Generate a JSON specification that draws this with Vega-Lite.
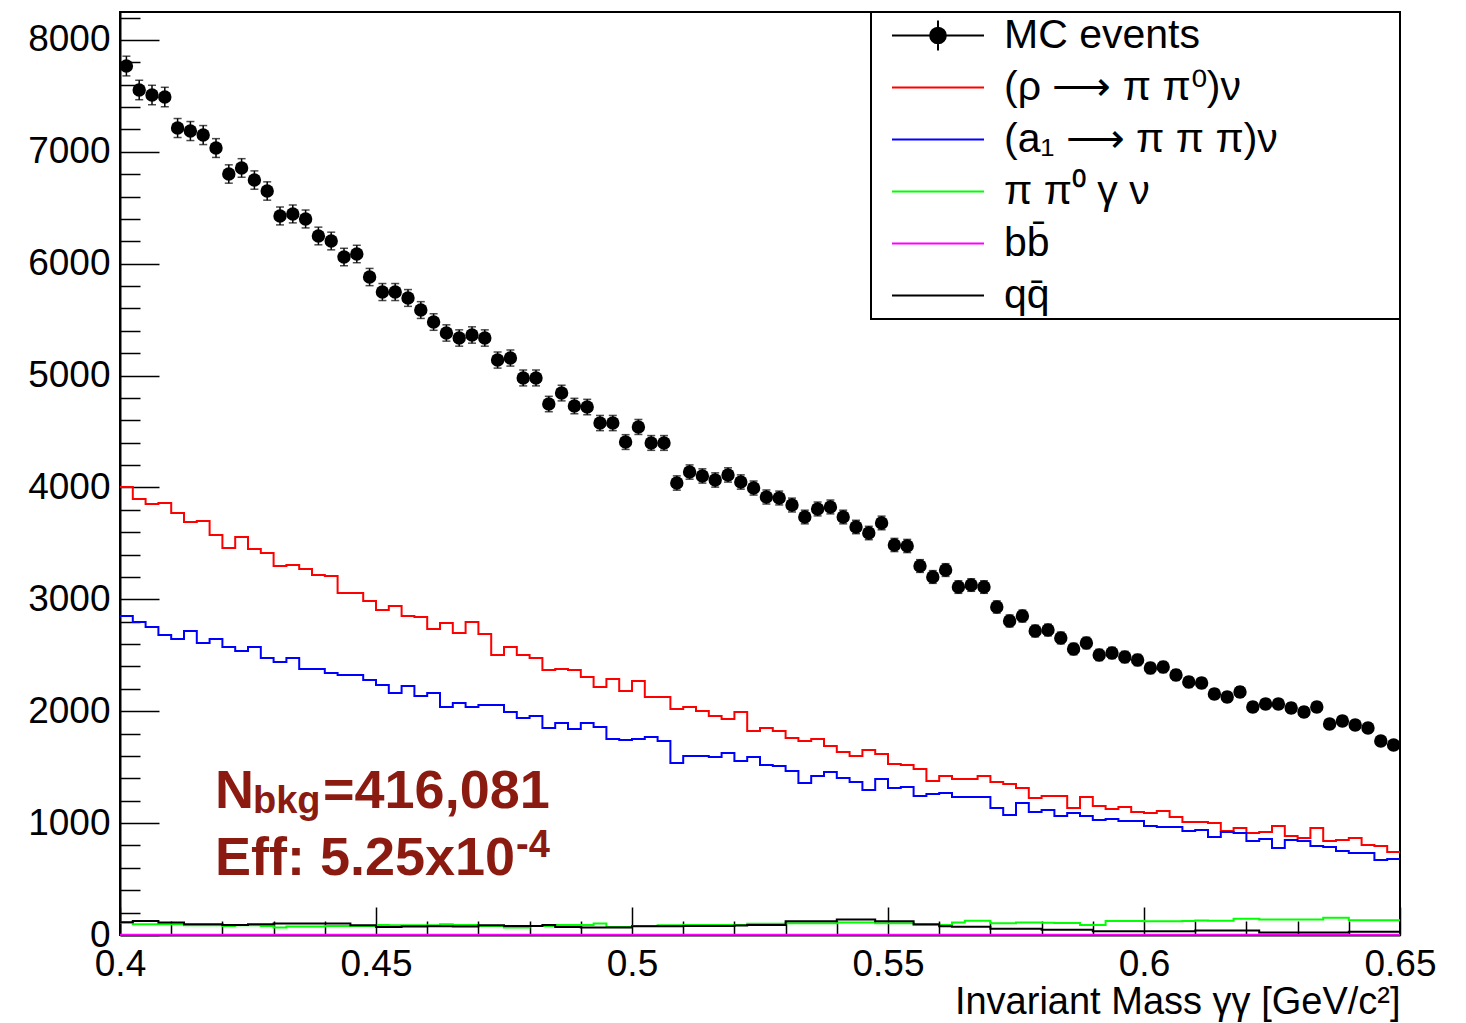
{
"$schema": "https://vega.github.io/schema/vega-lite/v6.json",
"width": 1280, "height": 923, "autosize": "none",
"padding": {"left": 120, "top": 12, "right": 66, "bottom": 88},
"background": "white",
"config": {"view": {"stroke": "black", "strokeWidth": 2}, "font": "Liberation Sans"},
"datasets": {"bins": [
{"x":0.4,"rho":4004,"a1":2851,"pig":111,"bb":2,"qq":115},
{"x":0.40125,"mc":7767,"err":88,"rho":4004,"a1":2851,"pig":111,"bb":2,"qq":115},
{"x":0.40375,"mc":7553,"err":87,"rho":3897,"a1":2798,"pig":96,"bb":2,"qq":126},
{"x":0.40625,"mc":7508,"err":87,"rho":3852,"a1":2753,"pig":96,"bb":2,"qq":126},
{"x":0.40875,"mc":7490,"err":87,"rho":3861,"a1":2681,"pig":96,"bb":2,"qq":111},
{"x":0.41125,"mc":7213,"err":85,"rho":3772,"a1":2646,"pig":96,"bb":2,"qq":111},
{"x":0.41375,"mc":7186,"err":85,"rho":3691,"a1":2717,"pig":87,"bb":2,"qq":96},
{"x":0.41625,"mc":7150,"err":85,"rho":3700,"a1":2610,"pig":87,"bb":2,"qq":96},
{"x":0.41875,"mc":7034,"err":84,"rho":3575,"a1":2646,"pig":87,"bb":2,"qq":96},
{"x":0.42125,"mc":6802,"err":82,"rho":3459,"a1":2574,"pig":81,"bb":2,"qq":90},
{"x":0.42375,"mc":6856,"err":83,"rho":3557,"a1":2538,"pig":87,"bb":2,"qq":90},
{"x":0.42625,"mc":6748,"err":82,"rho":3450,"a1":2574,"pig":87,"bb":2,"qq":96},
{"x":0.42875,"mc":6650,"err":82,"rho":3414,"a1":2476,"pig":81,"bb":2,"qq":96},
{"x":0.43125,"mc":6427,"err":80,"rho":3298,"a1":2440,"pig":66,"bb":2,"qq":102},
{"x":0.43375,"mc":6445,"err":80,"rho":3307,"a1":2476,"pig":75,"bb":2,"qq":102},
{"x":0.43625,"mc":6400,"err":80,"rho":3271,"a1":2378,"pig":75,"bb":2,"qq":102},
{"x":0.43875,"mc":6248,"err":79,"rho":3218,"a1":2378,"pig":75,"bb":2,"qq":102},
{"x":0.44125,"mc":6203,"err":79,"rho":3209,"a1":2342,"pig":81,"bb":2,"qq":102},
{"x":0.44375,"mc":6060,"err":78,"rho":3057,"a1":2324,"pig":81,"bb":2,"qq":102},
{"x":0.44625,"mc":6087,"err":78,"rho":3057,"a1":2324,"pig":81,"bb":2,"qq":87},
{"x":0.44875,"mc":5881,"err":77,"rho":2985,"a1":2279,"pig":81,"bb":2,"qq":87},
{"x":0.45125,"mc":5747,"err":76,"rho":2905,"a1":2235,"pig":90,"bb":2,"qq":72},
{"x":0.45375,"mc":5747,"err":76,"rho":2941,"a1":2163,"pig":87,"bb":2,"qq":72},
{"x":0.45625,"mc":5694,"err":75,"rho":2851,"a1":2226,"pig":87,"bb":2,"qq":75},
{"x":0.45875,"mc":5586,"err":75,"rho":2842,"a1":2136,"pig":87,"bb":2,"qq":75},
{"x":0.46125,"mc":5479,"err":74,"rho":2735,"a1":2163,"pig":87,"bb":2,"qq":78},
{"x":0.46375,"mc":5381,"err":73,"rho":2789,"a1":2038,"pig":96,"bb":2,"qq":78},
{"x":0.46625,"mc":5336,"err":73,"rho":2699,"a1":2074,"pig":90,"bb":2,"qq":75},
{"x":0.46875,"mc":5363,"err":73,"rho":2798,"a1":2038,"pig":90,"bb":2,"qq":75},
{"x":0.47125,"mc":5336,"err":73,"rho":2690,"a1":2056,"pig":81,"bb":2,"qq":87},
{"x":0.47375,"mc":5139,"err":72,"rho":2503,"a1":2056,"pig":81,"bb":2,"qq":87},
{"x":0.47625,"mc":5157,"err":72,"rho":2574,"a1":1993,"pig":66,"bb":2,"qq":81},
{"x":0.47875,"mc":4979,"err":71,"rho":2503,"a1":1940,"pig":66,"bb":2,"qq":81},
{"x":0.48125,"mc":4979,"err":71,"rho":2476,"a1":1957,"pig":81,"bb":2,"qq":81},
{"x":0.48375,"mc":4746,"err":69,"rho":2369,"a1":1850,"pig":81,"bb":2,"qq":90},
{"x":0.48625,"mc":4844,"err":70,"rho":2378,"a1":1895,"pig":90,"bb":2,"qq":72},
{"x":0.48875,"mc":4728,"err":69,"rho":2369,"a1":1841,"pig":90,"bb":2,"qq":72},
{"x":0.49125,"mc":4719,"err":69,"rho":2306,"a1":1895,"pig":90,"bb":2,"qq":66},
{"x":0.49375,"mc":4576,"err":68,"rho":2217,"a1":1859,"pig":102,"bb":2,"qq":66},
{"x":0.49625,"mc":4576,"err":68,"rho":2288,"a1":1752,"pig":72,"bb":2,"qq":66},
{"x":0.49875,"mc":4406,"err":66,"rho":2181,"a1":1743,"pig":72,"bb":2,"qq":66},
{"x":0.50125,"mc":4541,"err":67,"rho":2270,"a1":1752,"pig":81,"bb":2,"qq":78},
{"x":0.50375,"mc":4398,"err":66,"rho":2127,"a1":1770,"pig":81,"bb":2,"qq":78},
{"x":0.50625,"mc":4398,"err":66,"rho":2127,"a1":1734,"pig":87,"bb":2,"qq":78},
{"x":0.50875,"mc":4040,"err":64,"rho":2020,"a1":1537,"pig":87,"bb":2,"qq":78},
{"x":0.51125,"mc":4138,"err":64,"rho":2038,"a1":1600,"pig":90,"bb":2,"qq":81},
{"x":0.51375,"mc":4103,"err":64,"rho":2002,"a1":1600,"pig":90,"bb":2,"qq":81},
{"x":0.51625,"mc":4067,"err":64,"rho":1957,"a1":1591,"pig":90,"bb":2,"qq":81},
{"x":0.51875,"mc":4112,"err":64,"rho":1931,"a1":1627,"pig":90,"bb":2,"qq":81},
{"x":0.52125,"mc":4049,"err":64,"rho":1993,"a1":1555,"pig":90,"bb":2,"qq":85},
{"x":0.52375,"mc":3995,"err":63,"rho":1823,"a1":1591,"pig":100,"bb":2,"qq":90},
{"x":0.52625,"mc":3915,"err":63,"rho":1850,"a1":1519,"pig":100,"bb":2,"qq":90},
{"x":0.52875,"mc":3906,"err":62,"rho":1823,"a1":1511,"pig":100,"bb":2,"qq":90},
{"x":0.53125,"mc":3843,"err":62,"rho":1761,"a1":1466,"pig":105,"bb":2,"qq":122},
{"x":0.53375,"mc":3736,"err":61,"rho":1734,"a1":1359,"pig":105,"bb":2,"qq":122},
{"x":0.53625,"mc":3808,"err":62,"rho":1752,"a1":1421,"pig":105,"bb":2,"qq":122},
{"x":0.53875,"mc":3826,"err":62,"rho":1689,"a1":1457,"pig":105,"bb":2,"qq":122},
{"x":0.54125,"mc":3736,"err":61,"rho":1636,"a1":1403,"pig":112,"bb":2,"qq":139},
{"x":0.54375,"mc":3647,"err":60,"rho":1600,"a1":1368,"pig":112,"bb":2,"qq":139},
{"x":0.54625,"mc":3593,"err":60,"rho":1654,"a1":1296,"pig":112,"bb":2,"qq":139},
{"x":0.54875,"mc":3683,"err":61,"rho":1618,"a1":1394,"pig":105,"bb":2,"qq":122},
{"x":0.55125,"mc":3486,"err":59,"rho":1528,"a1":1314,"pig":105,"bb":2,"qq":122},
{"x":0.55375,"mc":3477,"err":59,"rho":1519,"a1":1323,"pig":105,"bb":2,"qq":122},
{"x":0.55625,"mc":3298,"err":57,"rho":1484,"a1":1242,"pig":90,"bb":2,"qq":96},
{"x":0.55875,"mc":3200,"err":57,"rho":1376,"a1":1260,"pig":90,"bb":2,"qq":96},
{"x":0.56125,"mc":3262,"err":57,"rho":1421,"a1":1269,"pig":90,"bb":2,"qq":79},
{"x":0.56375,"mc":3110,"err":56,"rho":1394,"a1":1233,"pig":112,"bb":2,"qq":73},
{"x":0.56625,"mc":3128,"err":56,"rho":1394,"a1":1233,"pig":128,"bb":2,"qq":73},
{"x":0.56875,"mc":3110,"err":56,"rho":1421,"a1":1233,"pig":128,"bb":2,"qq":73},
{"x":0.57125,"mc":2932,"err":54,"rho":1368,"a1":1135,"pig":105,"bb":2,"qq":56},
{"x":0.57375,"mc":2807,"err":53,"rho":1350,"a1":1073,"pig":105,"bb":2,"qq":56},
{"x":0.57625,"mc":2851,"err":53,"rho":1314,"a1":1180,"pig":112,"bb":2,"qq":56},
{"x":0.57875,"mc":2717,"err":52,"rho":1225,"a1":1099,"pig":112,"bb":2,"qq":56},
{"x":0.58125,"mc":2726,"err":52,"rho":1242,"a1":1117,"pig":110,"bb":2,"qq":46},
{"x":0.58375,"mc":2655,"err":52,"rho":1242,"a1":1064,"pig":108,"bb":2,"qq":46},
{"x":0.58625,"mc":2556,"err":51,"rho":1135,"a1":1090,"pig":108,"bb":2,"qq":46},
{"x":0.58875,"mc":2610,"err":51,"rho":1233,"a1":1064,"pig":90,"bb":2,"qq":46},
{"x":0.59125,"mc":2503,"err":50,"rho":1153,"a1":1028,"pig":90,"bb":2,"qq":33},
{"x":0.59375,"mc":2521,"err":50,"rho":1126,"a1":1037,"pig":125,"bb":2,"qq":33},
{"x":0.59625,"mc":2485,"err":50,"rho":1144,"a1":1019,"pig":125,"bb":2,"qq":33},
{"x":0.59875,"mc":2458,"err":50,"rho":1099,"a1":1019,"pig":125,"bb":2,"qq":33},
{"x":0.60125,"mc":2386,"err":49,"rho":1090,"a1":974,"pig":122,"bb":2,"qq":33},
{"x":0.60375,"mc":2395,"err":49,"rho":1108,"a1":965,"pig":122,"bb":2,"qq":33},
{"x":0.60625,"mc":2324,"err":48,"rho":1055,"a1":965,"pig":122,"bb":2,"qq":33},
{"x":0.60875,"mc":2261,"err":48,"rho":1010,"a1":930,"pig":125,"bb":2,"qq":33},
{"x":0.61125,"mc":2252,"err":47,"rho":1010,"a1":939,"pig":130,"bb":2,"qq":40},
{"x":0.61375,"mc":2154,"err":46,"rho":1001,"a1":876,"pig":128,"bb":2,"qq":40},
{"x":0.61625,"mc":2127,"err":46,"rho":930,"a1":921,"pig":128,"bb":2,"qq":40},
{"x":0.61875,"mc":2172,"err":47,"rho":956,"a1":912,"pig":145,"bb":2,"qq":40},
{"x":0.62125,"mc":2038,"err":45,"rho":912,"a1":840,"pig":145,"bb":2,"qq":40},
{"x":0.62375,"mc":2065,"err":45,"rho":921,"a1":858,"pig":139,"bb":2,"qq":23},
{"x":0.62625,"mc":2065,"err":45,"rho":974,"a1":778,"pig":139,"bb":2,"qq":23},
{"x":0.62875,"mc":2029,"err":45,"rho":885,"a1":849,"pig":139,"bb":2,"qq":23},
{"x":0.63125,"mc":1993,"err":45,"rho":867,"a1":840,"pig":139,"bb":2,"qq":23},
{"x":0.63375,"mc":2038,"err":45,"rho":956,"a1":795,"pig":139,"bb":2,"qq":23},
{"x":0.63625,"mc":1886,"err":43,"rho":840,"a1":787,"pig":155,"bb":2,"qq":23},
{"x":0.63875,"mc":1913,"err":44,"rho":849,"a1":751,"pig":155,"bb":2,"qq":23},
{"x":0.64125,"mc":1877,"err":43,"rho":867,"a1":733,"pig":132,"bb":2,"qq":30},
{"x":0.64375,"mc":1850,"err":43,"rho":804,"a1":733,"pig":132,"bb":2,"qq":30},
{"x":0.64625,"mc":1734,"err":42,"rho":795,"a1":670,"pig":132,"bb":2,"qq":30},
{"x":0.64875,"mc":1698,"err":41,"rho":742,"a1":679,"pig":132,"bb":2,"qq":30},
{"x":0.65,"rho":742,"a1":679,"pig":132,"bb":2,"qq":30}
]},
"data": {"name": "bins"},
"resolve": {"axis": {"x": "independent", "y": "independent"}},
"layer": [
{
 "transform": [{"fold": ["rho","a1","pig","bb","qq"], "as": ["series","value"]}],
 "mark": {"type": "line", "interpolate": "step", "strokeWidth": 2},
 "encoding": {
  "x": {"field": "x", "type": "quantitative",
   "scale": {"domain": [0.4, 0.65], "nice": false, "zero": false},
   "axis": {"orient": "bottom", "values": [0.4,0.45,0.5,0.55,0.6,0.65],
    "tickSize": -28, "labelPadding": 39, "format": "~g",
    "labelFont": "Liberation Sans", "labelFontSize": 37, "labelColor": "black",
    "labelFlush": false, "labelOverlap": false, "labelBound": false,
    "title": "Invariant Mass γγ [GeV/c²]", "titleAnchor": "end", "titleFont": "Liberation Sans",
    "titleFontSize": 38, "titleFontWeight": "normal", "titleColor": "black", "titlePadding": 1,
    "grid": false, "domainColor": "black", "domainWidth": 2, "tickColor": "black", "tickWidth": 1.5}},
  "y": {"field": "value", "type": "quantitative",
   "scale": {"domain": [0, 8250], "nice": false, "zero": true},
   "axis": {"orient": "left", "values": [0,1000,2000,3000,4000,5000,6000,7000,8000],
    "tickSize": -39, "labelPadding": 49, "format": "d",
    "labelFont": "Liberation Sans", "labelFontSize": 37, "labelColor": "black",
    "labelOverlap": false, "labelBound": false, "labelFlush": false,
    "title": null, "grid": false, "domainColor": "black", "domainWidth": 2, "tickColor": "black", "tickWidth": 1.5}},
  "color": {"field": "series", "type": "nominal",
   "scale": {"domain": ["MC events","rho","a1","pig","bb","qq"], "range": ["#000000","#ff0000","#0000ff","#00ff00","#ff00ff","#000000"]},
   "legend": {"orient": "top-right", "offset": 0, "title": null,
    "symbolType": "stroke", "symbolSize": 1024, "symbolStrokeWidth": 2, "symbolOffset": 43.5,
    "labelFont": "Liberation Sans", "labelFontSize": 41, "labelColor": "black", "labelLimit": 1000,
    "labelOffset": 45.5, "padding": 3, "rowPadding": 10,
    "strokeColor": "black", "fillColor": "white",
    "labelExpr": "datum.value === 'rho' ? '(ρ ⟶ π π⁰)ν' : datum.value === 'a1' ? '(a₁ ⟶ π π π)ν' : datum.value === 'pig' ? 'π π⁰ γ ν' : datum.value === 'bb' ? 'bb̄' : datum.value === 'qq' ? 'qq̄' : datum.label",
    "encode": {
     "legend": {"update": {"strokeWidth": {"value": 2}}},
     "symbols": {"update": {
      "shape": {"signal": "datum.value === 'MC events' ? 'M-2.875,0H2.875M0,-0.94V0.94M0.49,0A0.49,0.49,0,1,1,-0.49,0A0.49,0.49,0,1,1,0.49,0ZM28.4,0' : 'M-2.875,0H2.875'"},
      "fill": {"signal": "datum.value === 'MC events' ? 'black' : 'transparent'"},
      "strokeWidth": {"value": 2}}}}}
  }
 }
},
{
 "transform": [{"filter": {"field": "mc", "valid": true}}],
 "mark": {"type": "errorbar", "ticks": {"size": 8, "thickness": 1.5, "color": "black"}, "rule": {"strokeWidth": 1.5, "color": "black"}},
 "encoding": {
  "x": {"field": "x", "type": "quantitative", "axis": null},
  "y": {"field": "mc", "type": "quantitative", "axis": null},
  "yError": {"field": "err"}
 }
},
{
 "transform": [{"filter": {"field": "mc", "valid": true}}],
 "mark": {"type": "circle", "size": 180, "color": "black", "opacity": 1},
 "encoding": {
  "x": {"field": "x", "type": "quantitative",
   "axis": {"orient": "bottom", "values": [0.41,0.42,0.43,0.44,0.46,0.47,0.48,0.49,0.51,0.52,0.53,0.54,0.56,0.57,0.58,0.59,0.61,0.62,0.63,0.64],
    "tickSize": -14, "labels": false, "domain": false, "title": null, "grid": false, "tickColor": "black", "tickWidth": 1.5}},
  "y": {"field": "mc", "type": "quantitative",
   "axis": {"orient": "left", "values": [200,400,600,800,1200,1400,1600,1800,2200,2400,2600,2800,3200,3400,3600,3800,4200,4400,4600,4800,5200,5400,5600,5800,6200,6400,6600,6800,7200,7400,7600,7800,8200],
    "tickSize": -20, "labels": false, "domain": false, "title": null, "grid": false, "tickColor": "black", "tickWidth": 1.5}}
 }
},
{
 "data": {"values": [{"label": "N"}]},
 "mark": {"type": "text", "align": "left", "baseline": "alphabetic", "font": "Liberation Sans", "fontWeight": "bold", "fontSize": 54, "color": "#8b1a10"},
 "encoding": {"x": {"datum": 0.41855, "type": "quantitative", "axis": null}, "y": {"datum": 1135, "type": "quantitative", "axis": null}, "text": {"field": "label"}}
},
{
 "data": {"values": [{"label": "bkg"}]},
 "mark": {"type": "text", "align": "left", "baseline": "alphabetic", "font": "Liberation Sans", "fontWeight": "bold", "fontSize": 38, "color": "#8b1a10"},
 "encoding": {"x": {"datum": 0.42598, "type": "quantitative", "axis": null}, "y": {"datum": 1090, "type": "quantitative", "axis": null}, "text": {"field": "label"}}
},
{
 "data": {"values": [{"label": "=416,081"}]},
 "mark": {"type": "text", "align": "left", "baseline": "alphabetic", "font": "Liberation Sans", "fontWeight": "bold", "fontSize": 54, "color": "#8b1a10"},
 "encoding": {"x": {"datum": 0.43965, "type": "quantitative", "axis": null}, "y": {"datum": 1135, "type": "quantitative", "axis": null}, "text": {"field": "label"}}
},
{
 "data": {"values": [{"label": "Eff: 5.25x10"}]},
 "mark": {"type": "text", "align": "left", "baseline": "alphabetic", "font": "Liberation Sans", "fontWeight": "bold", "fontSize": 54, "color": "#8b1a10"},
 "encoding": {"x": {"datum": 0.41855, "type": "quantitative", "axis": null}, "y": {"datum": 536, "type": "quantitative", "axis": null}, "text": {"field": "label"}}
},
{
 "data": {"values": [{"label": "-4"}]},
 "mark": {"type": "text", "align": "left", "baseline": "alphabetic", "font": "Liberation Sans", "fontWeight": "bold", "fontSize": 38, "color": "#8b1a10"},
 "encoding": {"x": {"datum": 0.47734, "type": "quantitative", "axis": null}, "y": {"datum": 700, "type": "quantitative", "axis": null}, "text": {"field": "label"}}
}
]
}
